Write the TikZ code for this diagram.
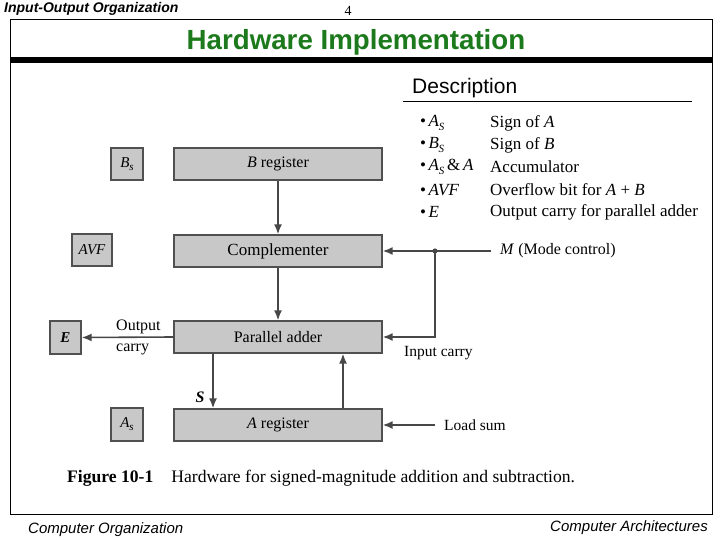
\documentclass[tikz,border=0pt]{standalone}
\usepackage{fontspec}
\setmainfont{Liberation Serif}
\newfontfamily\hsans{Liberation Sans}
\usetikzlibrary{arrows.meta}
\definecolor{boxfill}{RGB}{200,200,200}
\definecolor{boxline}{RGB}{80,80,80}
\definecolor{titlegreen}{RGB}{28,122,28}
\newcommand\subit[2]{\textit{#1}\kern-0.3pt\raisebox{-0.45ex}{\fontsize{11}{12}\selectfont\textit{#2}}}
\tikzset{
  regbox/.style={draw=boxline, line width=1.3pt, fill=boxfill, minimum width=208pt, minimum height=32pt, inner sep=0pt, font=\fontsize{16}{18}\selectfont},
  flagbox/.style={draw=boxline, line width=1.3pt, fill=boxfill, minimum height=32pt, inner sep=0pt, font=\fontsize{15}{17}\selectfont\itshape},
  conn/.style={draw=black!72, line width=1.6pt, -{Latex[length=10pt,width=8pt]}},
  lbl/.style={inner sep=0pt, font=\fontsize{16}{18}\selectfont},
  desc/.style={inner sep=0pt, anchor=west, font=\fontsize{17}{19}\selectfont},
}
\begin{document}
\begin{tikzpicture}[x=1pt,y=-1pt]
\useasboundingbox (0,0) rectangle (720,540);
% frame
\draw[line width=0.8pt] (10,19) rectangle (712,514);
\fill (10,57.5) rectangle (712,63);
% header/footer
\node[anchor=west, inner sep=0pt, font=\hsans\bfseries\itshape\fontsize{14}{16}\selectfont] (hdr) at (4,9) {Input-Output Organization};
\node[inner sep=0pt, font=\fontsize{14}{16}\selectfont] (pg) at (348,11) {4};
\node[inner sep=0pt, font=\hsans\bfseries\fontsize{27.7}{32}\selectfont, text=titlegreen] (title) at (356,42) {Hardware Implementation};
\node[anchor=west, inner sep=0pt, font=\hsans\itshape\fontsize{15}{17}\selectfont] (f1) at (28,530) {Computer Organization};
\node[anchor=east, inner sep=0pt, font=\hsans\itshape\fontsize{15}{17}\selectfont] (f2) at (708,528) {Computer Architectures};
% description
\node[anchor=west, inner sep=0pt, font=\hsans\fontsize{21}{24}\selectfont] (dh) at (412,88) {Description};
\draw[line width=1.5pt] (403,101.5) -- (692,101.5);
\foreach \y/\s/\t in {123/{\subit{A}{S}}/{Sign of \textit{A}},
                      145/{\subit{B}{S}}/{Sign of \textit{B}},
                      167/{\subit{A}{S}\,\&\,\textit{A}}/{Accumulator},
                      190/{\textit{AVF}}/{Overflow bit for \textit{A} + \textit{B}},
                      212/{\textit{E}}/{Output carry for parallel adder}} {
  \node[desc] at (420,\y) {\textbullet\kern2.5pt\s};
  \node[desc] at (490,\y) {\t};
}
% registers
\node[regbox] (breg) at (278,164) {\textit{B} register};
\node[regbox] (comp) at (278,251) {\fontsize{17}{18}\selectfont Complementer};
\node[regbox] (adder) at (278,337) {Parallel adder};
\node[regbox] (areg) at (278,425) {\textit{A} register};
\node[flagbox, minimum width=32pt] (bs) at (127,164) {\subit{B}{s}};
\node[flagbox, minimum width=40pt] (avf) at (92,250) {\textit{AVF}};
\node[flagbox, minimum width=31pt, minimum height=33pt, font=\fontsize{15}{17}\selectfont\bfseries\itshape] (e) at (65.5,337.5) {E};
\node[flagbox, minimum width=32pt, minimum height=33pt] (as) at (127,424.5) {\subit{A}{s}};
% connectors
\draw[conn] (breg) -- (comp);
\draw[conn] (comp) -- (adder);
\node[lbl, anchor=west] (mode) at (500,251) {\textit{M} (Mode control)};
\coordinate (j) at (435,251);
\draw[conn] ([xshift=-9pt]mode.west) -- (comp.east);
\fill[black!72] (j) circle (2.6pt);
\draw[conn] (j) |- (adder.east);
\node[lbl, anchor=west, font=\fontsize{15.5}{17}\selectfont] (icarry) at (404,353) {Input carry};
\draw[conn] (adder.west) -- (e.east);
\node[lbl, anchor=west] (oc1) at (116,327) {Output};
\node[lbl, anchor=west] (oc2) at (116,349) {carry};
\coordinate (sx) at (213,0);
\coordinate (ax) at (343,0);
\draw[conn] (adder.south -| sx) -- (areg.north -| sx);
\node[lbl, font=\fontsize{16}{18}\selectfont\bfseries\itshape] (s) at (200,397) {S};
\draw[conn] (areg.north -| ax) -- (adder.south -| ax);
\node[lbl, anchor=west, font=\fontsize{15.5}{17}\selectfont] (load) at (444,425) {Load sum};
\draw[conn] ([xshift=-9pt]load.west) -- (areg.east);
% caption
\node[anchor=west, inner sep=0pt, font=\fontsize{17.6}{20}\selectfont] (cap) at (67,478) {\textbf{Figure 10-1}\hspace{18pt}Hardware for signed-magnitude addition and subtraction.};
\end{tikzpicture}
\end{document}
